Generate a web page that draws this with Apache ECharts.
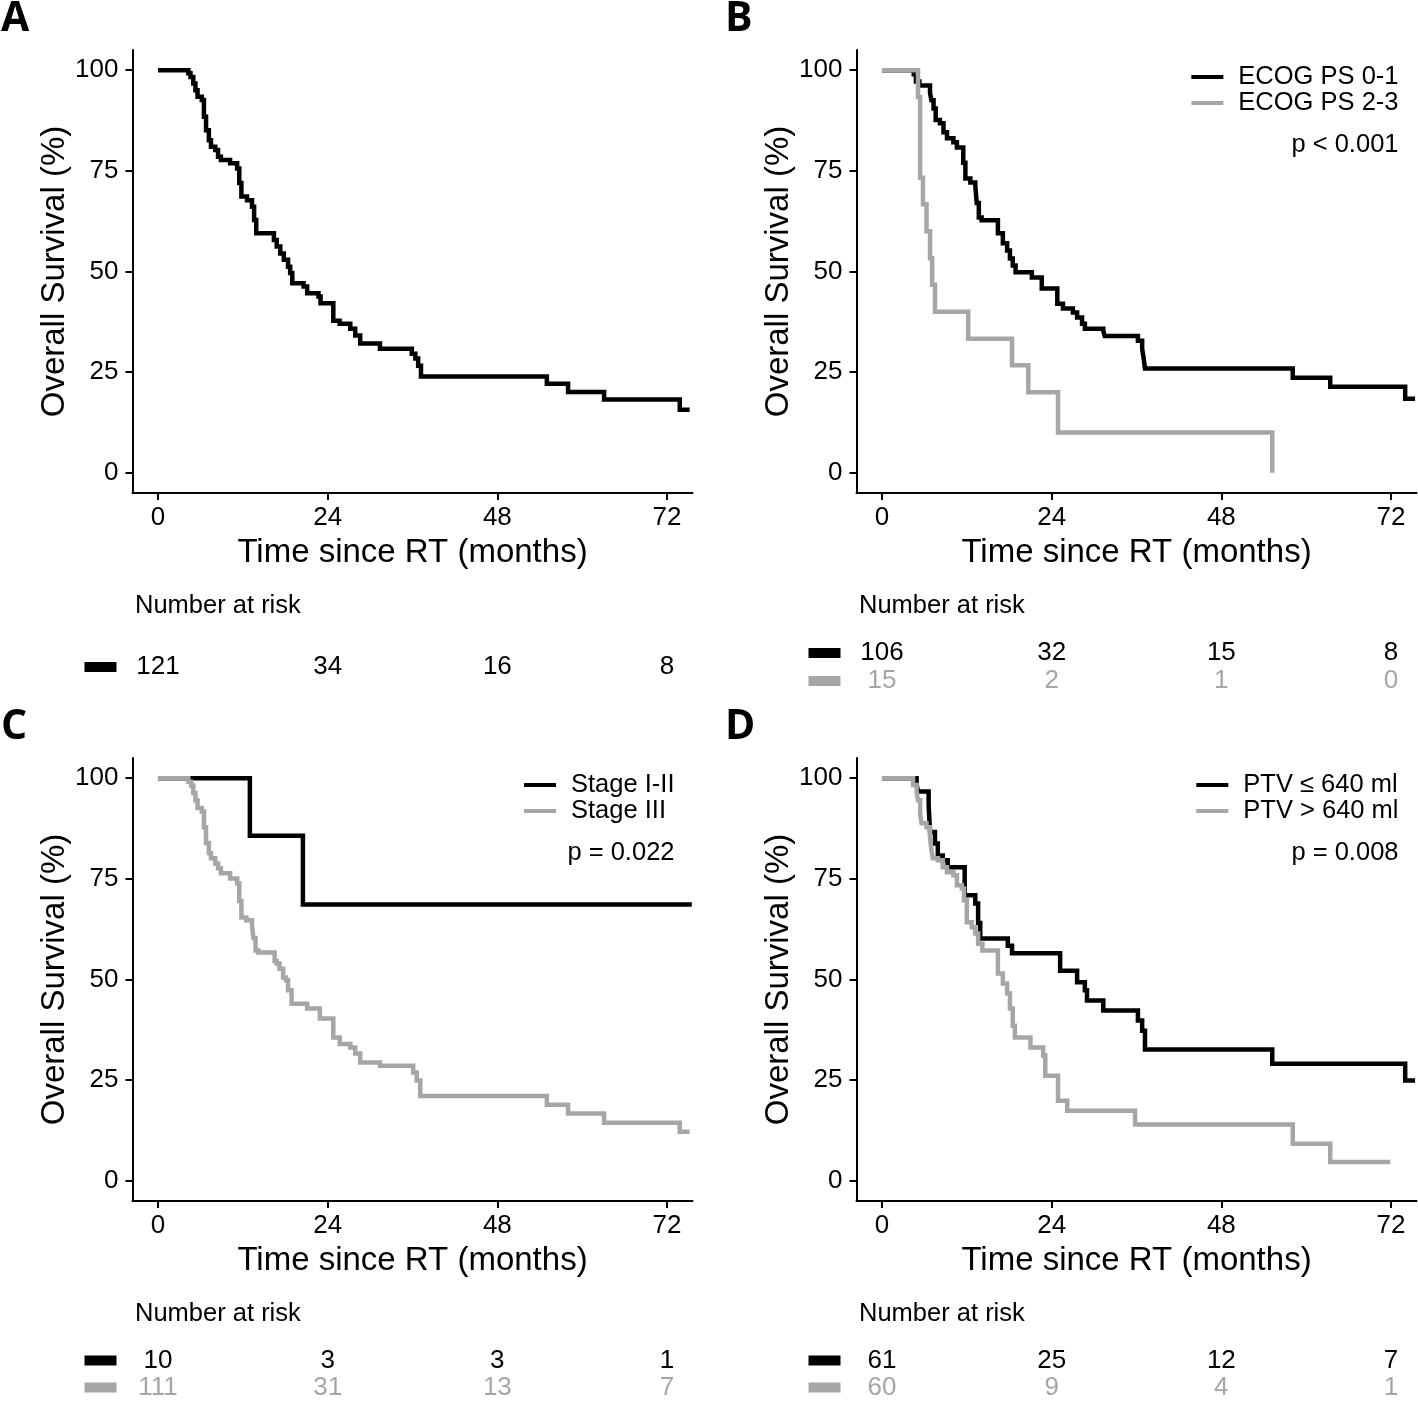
<!DOCTYPE html>
<html><head><meta charset="utf-8">
<script src="https://cdn.jsdelivr.net/npm/echarts@6/dist/echarts.min.js"></script>
<style>html,body{margin:0;padding:0;background:#fff}#c{width:1418px;height:1401px}</style>
</head><body><div id="c"></div>
<script>
// ---------- data ----------
const xTicks = [0, 24, 48, 72];
const yTicks = [0, 25, 50, 75, 100];
const riskTimes = [0, 24, 48, 72];

// Panel A: all patients  [time (months), survival (%) after the step]
const curveA_all = [[0,100],[4.3,99.2],[4.6,98.3],[5.0,96.7],[5.3,95],[5.6,93.4],[6.2,92.6],[6.5,88.4],[6.8,85.1],[7.2,82.6],[7.5,81.0],[8.1,80.2],[8.5,78.5],[8.9,77.7],[10.2,76.9],[11.2,75.6],[11.5,72.0],[11.8,68.6],[12.6,67.7],[13.3,66.1],[13.6,62.8],[13.9,59.5],[16.4,57.8],[16.8,56.2],[17.3,54.5],[17.8,52.9],[18.4,51.2],[18.7,49.6],[19.0,47.1],[20.6,46.3],[21.1,44.6],[22.7,43.8],[23.0,42.1],[24.8,37.8],[25.7,37.0],[27.2,35.8],[27.9,34.1],[28.6,32.1],[31.4,30.8],[35.9,29.6],[36.4,28.4],[36.8,26.6],[37.2,23.9],[55.0,22.1],[58.0,20.1],[63.1,18.2],[73.8,15.7],[75.2,15.7]];
const riskA_all = [121, 34, 16, 8];

// Panel B: ECOG PS
const curveB_ecog01 = [[0,100],[4.5,99],[4.8,97.2],[5.3,96.2],[6.8,94.3],[7.0,92.5],[7.3,90.5],[7.6,87.6],[8.2,86.8],[8.7,84.6],[9.2,83.1],[10.1,82.1],[10.6,80.8],[11.5,77.0],[11.8,73.1],[12.5,72.1],[13.2,71.4],[13.4,67],[13.7,63.4],[14.1,62.7],[16.4,59.5],[17.1,57],[17.7,55.2],[18.1,53.2],[18.5,51.5],[18.9,49.8],[21.2,48.5],[22.6,45.8],[24.8,42],[25.6,40.8],[27,39.8],[27.6,38.6],[28.3,37],[28.7,35.8],[31.3,35.3],[31.5,34],[36.2,32.8],[36.8,30.8],[37,28.6],[37.2,25.9],[58.1,23.6],[63.4,21.4],[74,18.4],[75.4,18.4]];
const curveB_ecog23 = [[0,100],[5.1,93.3],[5.4,73.3],[5.8,66.7],[6.3,60],[6.8,53.3],[7.1,46.7],[7.5,40],[12.2,33.3],[18.4,26.7],[20.7,20],[24.9,10],[55.2,0]];
const riskB_ecog01 = [106, 32, 15, 8];
const riskB_ecog23 = [15, 2, 1, 0];

// Panel C: Stage
const curveC_stage12 = [[0,100],[13,85.7],[20.5,68.6],[75.5,68.6]];
const curveC_stage3 = [[0,100],[4.3,99.1],[4.7,98.2],[5.0,96.3],[5.3,94.5],[5.6,92.6],[6.2,91.7],[6.5,87.8],[6.8,83.9],[7.2,81.4],[7.5,80.1],[8.1,78.8],[8.5,77.6],[8.9,76.4],[10.2,75.1],[11.2,73.9],[11.5,69.5],[11.8,65.4],[12.5,64.7],[13.3,63.4],[13.5,60.3],[13.8,57.2],[14.2,56.7],[16.5,54.6],[16.8,54],[17.2,52.7],[17.7,50.5],[18.1,49.8],[18.4,47.3],[18.9,44],[21.1,42.8],[22.9,40.3],[24.8,35.6],[25.7,34],[27.2,33.1],[27.9,31.6],[28.6,29.4],[31.4,28.6],[36.1,26.9],[36.6,24.9],[37.1,21.1],[55,18.9],[58,16.7],[63.1,14.4],[73.8,12.2],[75.2,12.2]];
const riskC_stage12 = [10, 3, 3, 1];
const riskC_stage3 = [111, 31, 13, 7];

// Panel D: PTV
const curveD_small = [[0,100],[4.9,98.4],[5.1,96.7],[6.6,93.4],[6.8,86.6],[7.5,83.8],[7.9,80.8],[8.6,79.6],[9.3,77.9],[11.7,70.9],[13.2,68.9],[13.6,64],[13.9,60.2],[17.8,58.4],[18.4,56.5],[25.2,52.2],[27.6,49.3],[28.7,47.3],[29,44.8],[31.3,42.3],[36.2,39.8],[36.8,37.3],[37.2,32.6],[55.2,29.1],[74,24.9],[75.4,24.9]];
const curveD_large = [[0,100],[4.4,98.3],[4.9,96.7],[5.1,94.5],[5.4,91],[5.6,88.8],[6.3,87.8],[6.8,85.3],[7.0,82],[7.2,80.1],[7.9,79.6],[8.6,77.9],[9.2,76.6],[10.1,75.9],[10.6,73.4],[11.3,72.6],[11.6,69.7],[12,64.2],[12.7,63],[13.2,61.4],[13.6,58.9],[14.2,57.2],[16.4,51.5],[17.1,49],[17.7,46.5],[18.1,42.8],[18.5,38.5],[18.8,35.6],[21,33.1],[22.8,31.1],[23.1,26.1],[24.9,19.9],[26.2,17.4],[35.8,14.0],[58.1,9.2],[63.4,4.7],[71.9,4.7]];
const riskD_small = [61, 25, 12, 7];
const riskD_large = [60, 9, 4, 1];

// ---------- styling / layout ----------
const FONT = "'Liberation Sans', Arial, Helvetica, sans-serif";
const BLACK = '#000000';
const GRAY = '#a6a6a6';

const panels = [
  {letter:'A', dx:0,   dy:0,   names:['All patients'], curves:[curveA_all], risks:[riskA_all], colors:[BLACK], legend:false, p:null},
  {letter:'B', dx:724, dy:0,   names:['ECOG PS 0-1','ECOG PS 2-3'], curves:[curveB_ecog01, curveB_ecog23], risks:[riskB_ecog01, riskB_ecog23], colors:[BLACK, GRAY], legend:true, p:'p < 0.001'},
  {letter:'C', dx:0,   dy:708, names:['Stage I-II','Stage III'], curves:[curveC_stage12, curveC_stage3], risks:[riskC_stage12, riskC_stage3], colors:[BLACK, GRAY], legend:true, p:'p = 0.022'},
  {letter:'D', dx:724, dy:708, names:['PTV \u2264 640 ml','PTV > 640 ml'], curves:[curveD_small, curveD_large], risks:[riskD_small, riskD_large], colors:[BLACK, GRAY], legend:true, p:'p = 0.008'}
];

const grid = [], xAxis = [], yAxis = [], series = [], legend = [], title = [];
const PL = 132.5, PT = 50, PW = 560, PH = 443;

panels.forEach((pn, pi) => {
  const gPlot = grid.length;
  grid.push({left: PL + pn.dx, top: PT + pn.dy, width: PW, height: PH, containLabel: false});
  xAxis.push({
    type:'value', gridIndex:gPlot, min:-3.6, max:75.6,
    name:'Time since RT (months)', nameLocation:'middle', nameGap:43,
    nameTextStyle:{fontSize:33, color:BLACK, fontFamily:FONT, verticalAlign:'top'},
    axisLine:{onZero:false, lineStyle:{color:BLACK, width:2}},
    axisTick:{show:true, length:7, lineStyle:{color:BLACK, width:2}, customValues:xTicks},
    axisLabel:{fontSize:26, color:BLACK, fontFamily:FONT, margin:12, customValues:xTicks},
    splitLine:{show:false}
  });
  yAxis.push({
    type:'value', gridIndex:gPlot, min:-5, max:105,
    name:'Overall Survival (%)', nameLocation:'middle', nameGap:56,
    nameTextStyle:{fontSize:33, color:BLACK, fontFamily:FONT},
    axisLine:{onZero:false, lineStyle:{color:BLACK, width:2}},
    axisTick:{show:true, length:7, lineStyle:{color:BLACK, width:2}, customValues:yTicks},
    axisLabel:{fontSize:26, color:BLACK, fontFamily:FONT, margin:14, customValues:yTicks},
    splitLine:{show:false}
  });
  pn.curves.forEach((c, ci) => {
    series.push({
      type:'line', name:pn.names[ci], xAxisIndex:gPlot, yAxisIndex:gPlot,
      data:c, step:'end', symbol:'none', clip:true,
      lineStyle:{color:pn.colors[ci], width:4.5, cap:'butt', join:'miter'},
      itemStyle:{color:pn.colors[ci]}, animation:false
    });
  });

  // risk table grid
  const gRisk = grid.length;
  const nRows = pn.risks.length;
  const rowH = 28;
  const rTop = (nRows === 1 ? 653 : 639) + pn.dy;
  grid.push({left: PL + pn.dx, top: rTop, width: PW, height: rowH * nRows});
  xAxis.push({type:'value', gridIndex:gRisk, min:-3.6, max:75.6, show:false});
  const rowNames = pn.names.map((n) => 'r_' + n);
  const rich = {};
  pn.colors.forEach((col, i) => { rich['k' + i] = {backgroundColor: col, width: 32, height: 10}; });
  yAxis.push({
    type:'category', gridIndex:gRisk, data:rowNames, inverse:true,
    axisLine:{show:false}, axisTick:{show:false}, splitLine:{show:false},
    axisLabel:{show:true, margin:16, formatter:(v, i) => '{k' + i + '|}', rich: rich}
  });
  pn.risks.forEach((r, ri) => {
    series.push({
      type:'scatter', name:'risk_' + pn.names[ri], xAxisIndex:gRisk, yAxisIndex:gRisk,
      symbolSize:0, silent:true, animation:false,
      itemStyle:{color: pn.colors[ri]},
      data: riskTimes.map((t, k) => [t, rowNames[ri], r[k]]),
      label:{show:true, position:'inside', formatter:(p) => String(p.value[2]),
             color: pn.colors[ri], fontSize:26, fontFamily:FONT,
             textBorderWidth:0, textBorderColor:'transparent', opacity:1}
    });
  });

  // texts
  title.push({text:pn.letter, left:1 + pn.dx, top:-4 + pn.dy, padding:0,
    textStyle:{fontSize:41, fontWeight:'bold', fontFamily:"'Open Sans', 'DejaVu Sans', sans-serif", color:BLACK, lineHeight:46}});
  title.push({text:'Number at risk', left:135 + pn.dx, top:591 + pn.dy, padding:0,
    textStyle:{fontSize:25.5, fontWeight:'normal', fontFamily:FONT, color:BLACK, lineHeight:30}});
  const rightEdge = 1418 - (PL + PW + pn.dx) + 18;
  if (pn.legend) {
    legend.push({
      data: pn.names, orient:'vertical', right: rightEdge, top: 64 + pn.dy,
      icon:'rect', itemWidth:32, itemHeight:4, itemGap:0, padding:0,
      selectedMode:false,
      textStyle:{fontSize:25.5, color:BLACK, fontFamily:FONT, lineHeight:26, padding:[0,0,0,10]}
    });
    title.push({text:pn.p, right: rightEdge, top: 130 + pn.dy, padding:0,
      textStyle:{fontSize:25.5, fontWeight:'normal', fontFamily:FONT, color:BLACK, lineHeight:30}});
  }
});

const chart = echarts.init(document.getElementById('c'), null, {renderer:'canvas'});
chart.setOption({
  backgroundColor:'#ffffff',
  animation:false,
  textStyle:{fontFamily:FONT},
  title, legend, grid, xAxis, yAxis, series
});
</script>
</body></html>
